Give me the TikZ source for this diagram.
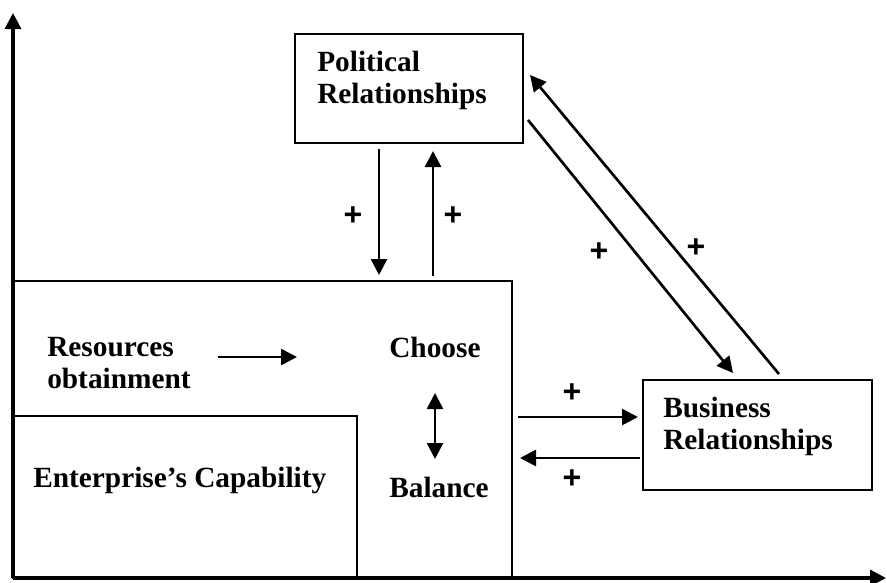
\documentclass[tikz,border=0pt]{standalone}
\usepackage{fontspec}
\setmainfont{Liberation Serif}
\newfontfamily\plusfont{Liberation Sans}
\usetikzlibrary{arrows.meta}

\tikzset{
  frame/.style={draw, line width=1.5pt, inner sep=0pt},
  lbl/.style={anchor=base west, inner sep=0pt, align=left, font=\fontsize{22}{24}\selectfont\bfseries},
  plus/.style={inner sep=0pt, font=\plusfont\fontsize{24}{24}\selectfont\bfseries},
  link/.style={line width=2pt, -{Triangle[length=12pt,width=12pt]}},
  axis/.style={line width=2.4pt, -{Triangle[length=12pt,width=12pt]}},
}

\begin{document}
\begin{tikzpicture}[x=0.75pt,y=0.75pt,yscale=-1,xscale=1]
\useasboundingbox (0,0) rectangle (887,582);

%Axes
\coordinate (origin) at (13,578);
\coordinate (ytop) at (13,13);
\coordinate (xend) at (886,578);
\draw [axis] (origin) -- (ytop);
\draw [axis] (origin) -- (xend);

%Boxes
\node [frame, minimum width=171pt, minimum height=81.75pt] (pol) at (409,88.5) {};
\node [frame, minimum width=374.25pt, minimum height=222.75pt] (main) at (262.5,429.5) {};
\node [frame, minimum width=258pt, minimum height=121.5pt] (cap) at (185,497) {};
\node [frame, minimum width=171.75pt, minimum height=82.5pt] (biz) at (757.5,435) {};

% Text Node (base = last line)
\node [lbl] (poltxt) at (317,103) {Political\\Relationships};
% Text Node
\node [lbl] (restxt) at (47,388) {Resources\\obtainment};
% Text Node
\node [lbl] (choose) at (389,357) {Choose};
% Text Node
\node [lbl] (balance) at (389,497) {Balance};
% Text Node
\node [lbl] (captxt) at (33,487) {Enterprise’s Capability};
% Text Node
\node [lbl] (biztxt) at (663,449) {Business\\Relationships};

%Arrow ends
\coordinate (polA) at (379,149);  \coordinate (mainA) at (379,275);
\coordinate (mainB) at (433,276); \coordinate (polB) at (433,151);
\coordinate (polC) at (528,120);  \coordinate (bizC) at (733,373);
\coordinate (bizD) at (779,374);  \coordinate (polD) at (530,75);
\coordinate (mainE) at (518,417); \coordinate (bizE) at (638,417);
\coordinate (bizF) at (640,458);  \coordinate (mainF) at (520,458);
\coordinate (resG) at (218,357);  \coordinate (chG) at (297,357);
\coordinate (chH) at (435,393);   \coordinate (balH) at (435,459);

\draw [link] (polA) -- (mainA);
\draw [link] (mainB) -- (polB);
\draw [link] (polC) -- (bizC);
\draw [link] (bizD) -- (polD);
\draw [link] (mainE) -- (bizE);
\draw [link] (bizF) -- (mainF);
\draw [link] (resG) -- (chG);
\draw [link, {Triangle[length=12pt,width=12pt]}-{Triangle[length=12pt,width=12pt]}] (chH) -- (balH);

%Signs
\node [plus] (p1) at (353,216) {+};
\node [plus] (p2) at (453,216) {+};
\node [plus] (p3) at (599,252) {+};
\node [plus] (p4) at (696,248) {+};
\node [plus] (p5) at (572,393) {+};
\node [plus] (p6) at (572,479) {+};

\end{tikzpicture}
\end{document}
